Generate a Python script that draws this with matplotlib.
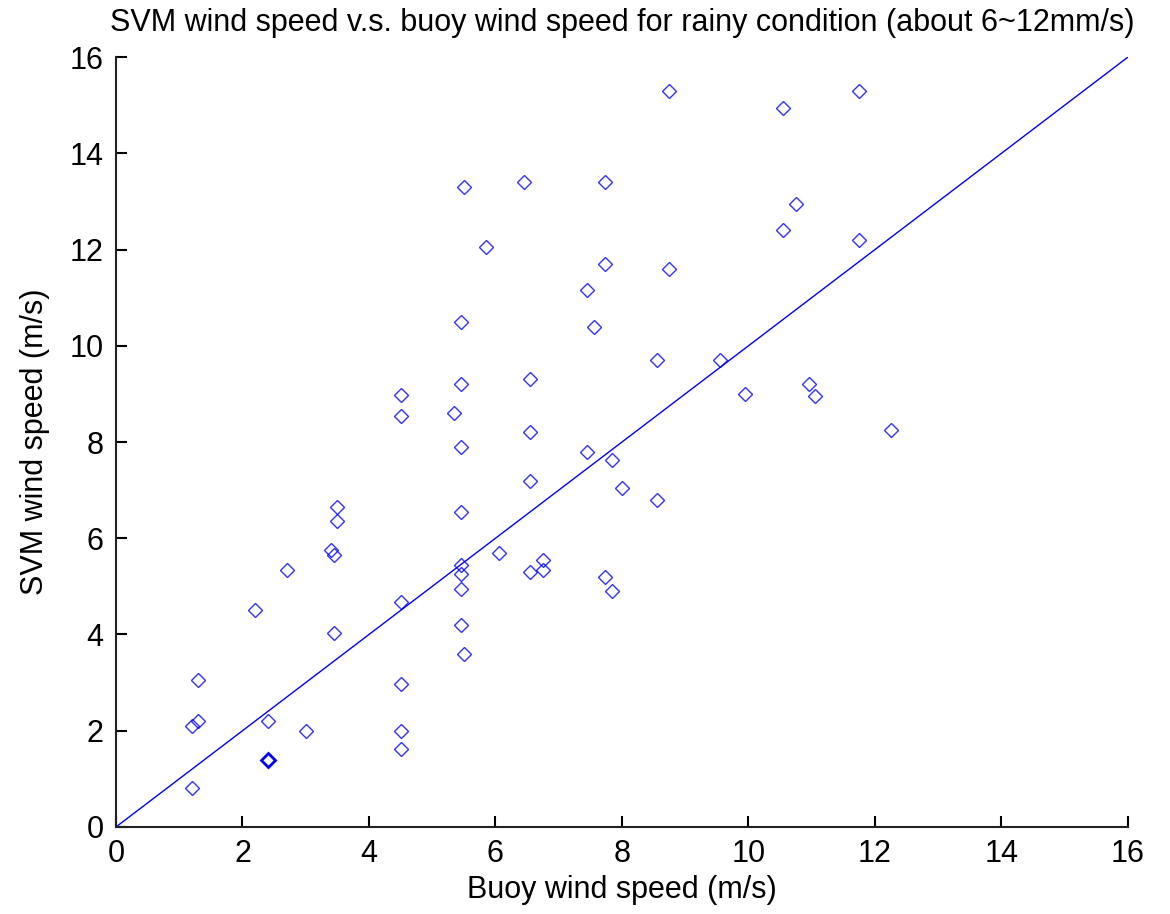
import matplotlib
matplotlib.use('Agg')
import matplotlib.pyplot as plt

# buoy wind speed (m/s) and SVM-retrieved wind speed (m/s)
buoy = [1.2, 1.2, 1.3, 1.3, 2.2, 2.4, 2.4, 2.7, 3.0, 3.4, 3.45, 3.5, 3.5, 3.45,
        4.5, 4.5, 4.5, 4.5, 4.5, 4.5, 5.35, 5.45, 5.45, 5.45, 5.45, 5.45, 5.45,
        5.45, 5.45, 5.5, 5.5, 5.85, 6.05, 6.45, 6.55, 6.55, 6.55, 6.55, 6.75,
        6.75, 7.45, 7.55, 7.45, 7.73, 7.73, 7.73, 7.85, 7.85, 8.0, 8.55, 8.55,
        8.75, 8.75, 9.55, 9.95, 10.55, 10.55, 10.75, 10.95, 11.05, 11.75, 11.75,
        12.25]
svm = [0.8, 2.1, 2.2, 3.05, 4.5, 2.2, 1.4, 5.35, 2.0, 5.75, 5.65, 6.65, 6.35, 4.03,
       8.98, 8.55, 4.67, 2.97, 2.0, 1.62, 8.6, 10.5, 9.2, 7.9, 6.55, 5.45, 5.25,
       4.95, 4.2, 3.6, 13.3, 12.05, 5.7, 13.4, 9.3, 8.2, 7.2, 5.3, 5.55,
       5.35, 11.15, 10.4, 7.8, 13.4, 11.7, 5.2, 7.63, 4.9, 7.05, 9.7, 6.8,
       15.3, 11.6, 9.7, 9.0, 14.95, 12.4, 12.95, 9.2, 8.95, 15.3, 12.2,
       8.25]
# duplicated point drawn in bold
dup_x = [2.4]
dup_y = [1.4]

ref_line = [0, 16]
ticks = [0, 2, 4, 6, 8, 10, 12, 14, 16]

plt.rcParams['font.family'] = ['Liberation Sans', 'DejaVu Sans']

fig = plt.figure(figsize=(11.7, 9.14), dpi=100)
ax = fig.add_axes([0.0991, 0.0952, 0.8650, 0.8424])

ax.plot(buoy, svm, 'D', mfc='none', mec='blue', ms=7.5, mew=1.0, alpha=0.8)
ax.plot(dup_x, dup_y, 'D', mfc='none', mec='blue', ms=7.5, mew=2.0)
ax.plot(ref_line, ref_line, '-', color='blue', lw=1.0)

ax.set_xlim(0, 16)
ax.set_ylim(0, 16)
ax.set_xticks(ticks)
ax.set_yticks(ticks)
ax.spines['top'].set_visible(False)
ax.spines['right'].set_visible(False)
for s in ['left', 'bottom']:
    ax.spines[s].set_linewidth(1.5)
    ax.spines[s].set_color('#222222')
ax.tick_params(direction='in', length=8, width=1.5, labelsize=22, pad=9)

ax.set_xlabel('Buoy wind speed (m/s)', fontsize=22, labelpad=4)
ax.set_ylabel('SVM wind speed (m/s)', fontsize=22, labelpad=14)
ax.set_title('SVM wind speed v.s. buoy wind speed for rainy condition (about 6~12mm/s)',
             fontsize=22, pad=19)

fig.savefig('out.png', dpi=100)
